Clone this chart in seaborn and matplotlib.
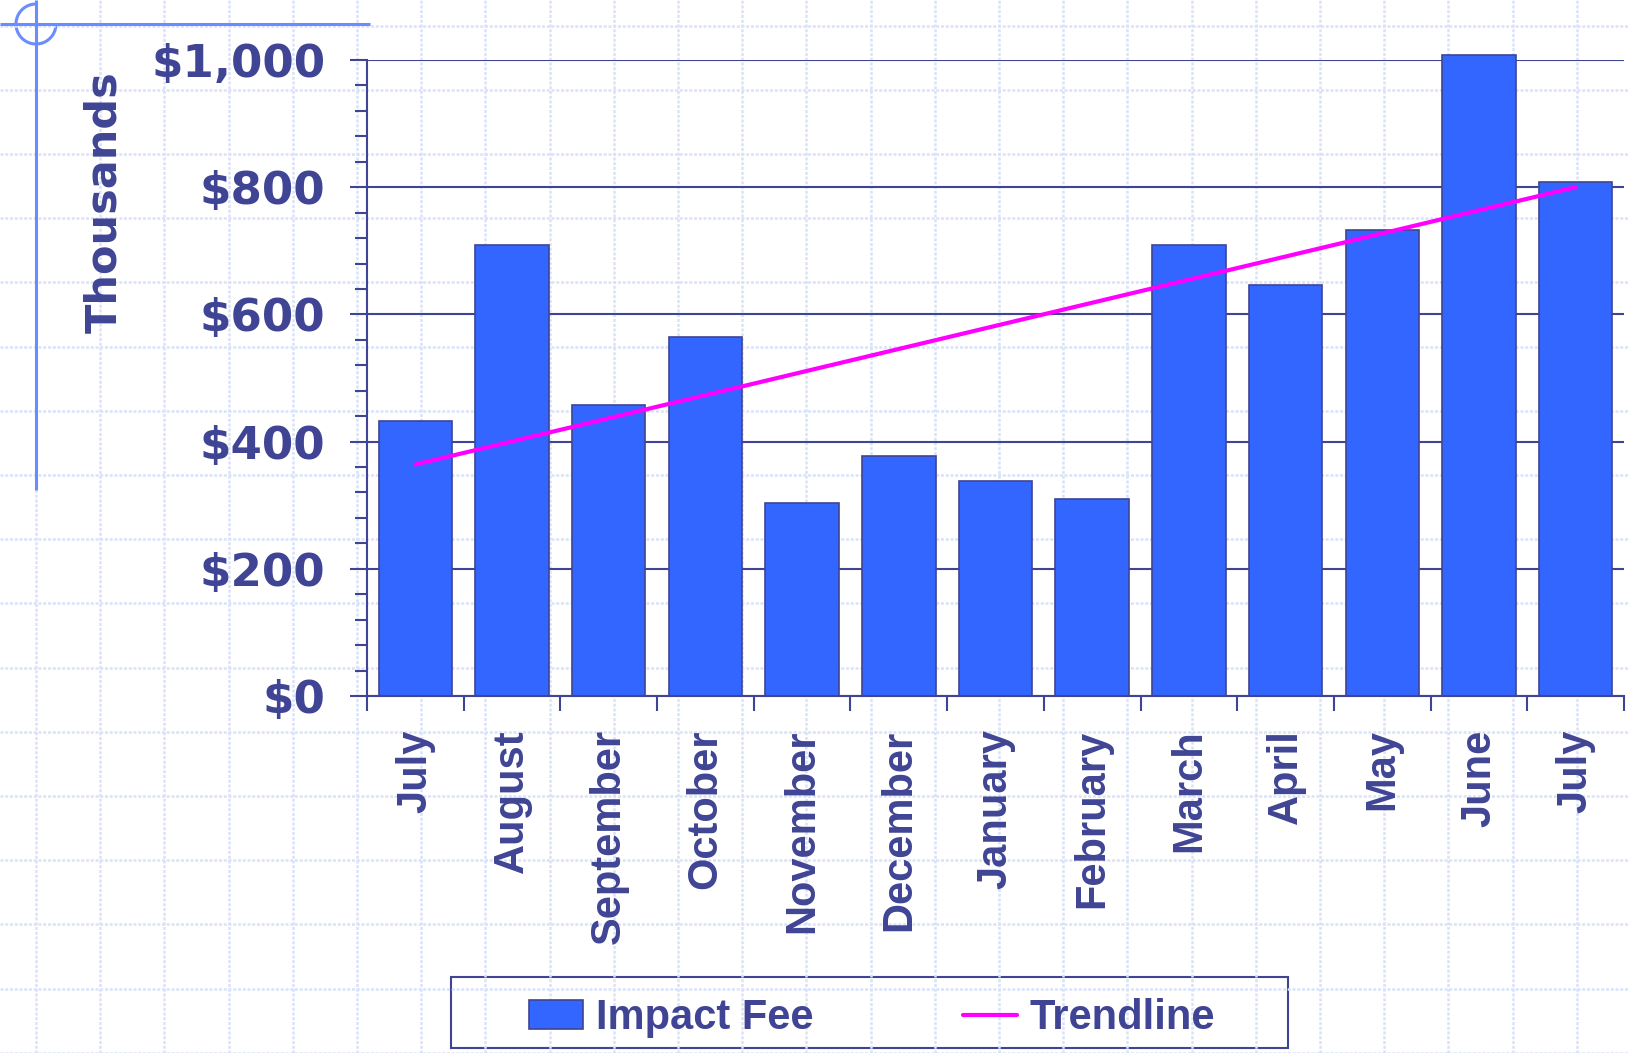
import numpy as np
import pandas as pd
import matplotlib.pyplot as plt
import seaborn as sns
from matplotlib.patches import Arc, Rectangle
from matplotlib.ticker import MultipleLocator
from matplotlib.font_manager import FontProperties

# -----------------------------
# Data (thousands of dollars)
# -----------------------------
months = ["July", "August", "September", "October", "November", "December",
          "January", "February", "March", "April", "May", "June", "July"]
impact_fee = [433, 709, 457, 565, 304, 377, 338, 310, 709, 647, 732, 1008, 808]

# trendline read at first and last month
trend_at = [0, 12]
trend_values = [364, 800]

y_ticks = [0, 200, 400, 600, 800, 1000]
y_tick_labels = ["$0", "$200", "$400", "$600", "$800", "$1,000"]

# -----------------------------
# Colours / style
# -----------------------------
navy = "#3f4494"
bar_blue = "#3366ff"
deco_blue = "#6b8cff"
paper = "#d9e2f9"

sns.set_style("white")
plt.rcParams["font.family"] = ["DejaVu Sans"]
plt.rcParams["font.weight"] = "bold"

W, H = 1628, 1053
fig = plt.figure(figsize=(W / 100, H / 100), dpi=100)

# -----------------------------
# Graph paper background + slide decoration
# -----------------------------
bg = fig.add_axes([0, 0, 1, 1], zorder=-1)
bg.set_xlim(0, W)
bg.set_ylim(H, 0)
bg.axis("off")
for gx in np.arange(36, W, 64.2):
    bg.axvline(gx, color=paper, lw=1.8, ls=(0, (1.2, 0.7)))
for gy in np.arange(25.5, H, 64.2):
    bg.axhline(gy, color=paper, lw=1.8, ls=(0, (1.2, 0.7)))

bg.plot([0, 370], [24, 24], color=deco_blue, lw=2.2, solid_capstyle="butt")
bg.plot([36, 36], [0, 490], color=deco_blue, lw=2.2, solid_capstyle="butt")
bg.add_patch(Arc((36, 24), 40, 40, theta1=0, theta2=270, color=deco_blue, lw=2.2))

# legend frame
bg.add_patch(Rectangle((451, 977), 837, 71, fill=False, edgecolor=navy, lw=1.5))

# -----------------------------
# Main chart
# -----------------------------
ax = fig.add_axes([367 / W, 1 - 696 / H, (1624 - 367) / W, (696 - 60) / H])
ax.set_facecolor("none")

df = pd.DataFrame({"period": np.arange(len(months)), "fee": impact_fee})

sns.barplot(
    data=df, x="period", y="fee",
    native_scale=True,
    color=bar_blue, saturation=1, width=0.76,
    edgecolor=navy, linewidth=1.2,
    label="Impact Fee", ax=ax
)
for p in ax.patches:
    p.set_clip_on(False)

sns.lineplot(x=trend_at, y=trend_values, color="#ff00ff", lw=3,
             label="Trendline", ax=ax, zorder=5)
if ax.get_legend() is not None:
    ax.get_legend().remove()

ax.set_xlim(-0.5, len(months) - 0.5)
ax.set_ylim(0, 1000)
ax.set_xlabel("")
ax.set_ylabel("")

ax.set_yticks(y_ticks, y_tick_labels, fontsize=32.5, color=navy)
ax.yaxis.set_minor_locator(MultipleLocator(40))
ax.set_xticks(np.arange(len(months)), months, rotation=90,
              fontsize=30, family="Liberation Sans", color=navy)
ax.set_xticks(np.arange(-0.5, len(months)), minor=True)

ax.tick_params(axis="y", which="major", left=True, length=12, width=1.5,
               color=navy, pad=18)
ax.tick_params(axis="y", which="minor", left=True, length=9, width=1.5,
               color=navy)
ax.tick_params(axis="x", which="major", bottom=True, length=0, pad=24)
ax.tick_params(axis="x", which="minor", bottom=True, length=11, width=1.5,
               color=navy)

ax.yaxis.grid(True, which="major", color=navy, lw=1.5)
ax.xaxis.grid(False)
ax.set_axisbelow(True)

ax.spines[["top", "right"]].set_visible(False)
for side in ["left", "bottom"]:
    ax.spines[side].set_color(navy)
    ax.spines[side].set_linewidth(1.5)

fig.text(104 / W, 1 - 202 / H, "Thousands", rotation=90, ha="center",
         va="center", fontsize=31, color=navy, fontweight="bold")

# -----------------------------
# Legend
# -----------------------------
handles, labels = ax.get_legend_handles_labels()
order = [labels.index("Impact Fee"), labels.index("Trendline")]
fig.legend(
    [handles[i] for i in order], [labels[i] for i in order],
    loc="center", bbox_to_anchor=(872 / W, 1 - 1018 / H),
    ncol=2, frameon=False,
    prop=FontProperties(family="Liberation Sans", weight="bold", size=30),
    labelcolor=navy,
    handlelength=1.3, handleheight=0.67,
    handletextpad=0.3, columnspacing=3.6
)

fig.savefig("out.png", dpi=100, facecolor="white")
